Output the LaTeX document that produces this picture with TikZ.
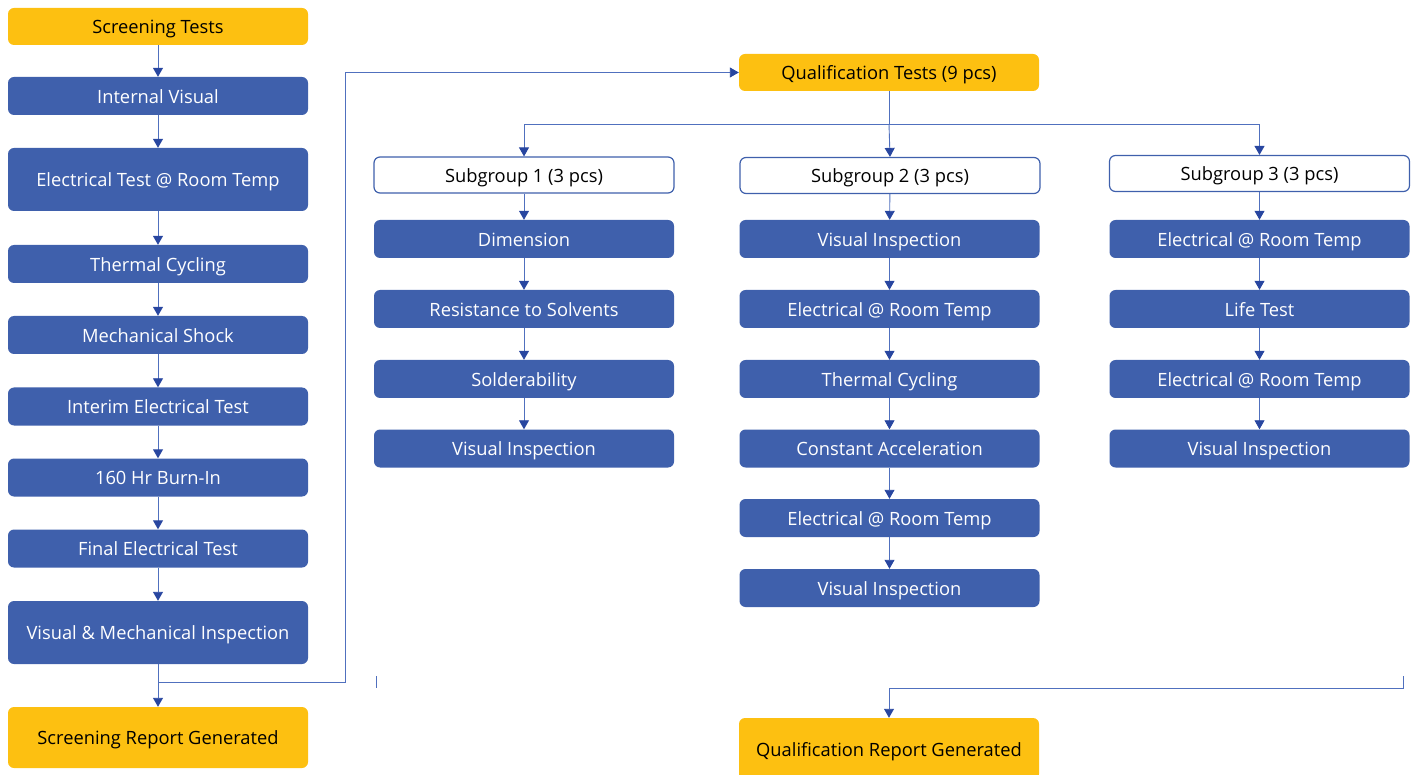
\documentclass[tikz,border=0pt]{standalone}
\usepackage{fontspec}
\setmainfont{Open Sans}
\usetikzlibrary{arrows.meta,positioning}
\definecolor{boxblue}{RGB}{63,96,172}
\definecolor{boxyellow}{RGB}{253,192,17}
\definecolor{linecol}{RGB}{80,112,190}
\definecolor{tipcol}{RGB}{40,70,160}
\tikzset{
  base/.style={rounded corners=6pt, minimum width=300pt, inner sep=0pt, align=center, text height=14.6pt, text depth=0pt, font=\fontsize{18.3}{22}\selectfont},
  bluebox/.style={base, fill=boxblue, text=white, minimum height=38pt},
  tallbox/.style={bluebox, minimum height=63pt},
  yellowbox/.style={base, fill=boxyellow, text=black, minimum height=37pt},
  whitebox/.style={base, draw=boxblue, line width=1.2pt, fill=white, text=black, minimum height=36pt},
  conn/.style={draw=linecol, line width=0.9pt},
  arr/.style={conn, -{Triangle[width=10pt,length=9pt,fill=tipcol,color=tipcol]}}
}
\begin{document}
\begin{tikzpicture}[x=1pt,y=-1pt]
\useasboundingbox (0,0) rectangle (1411,775);
% left column
\node[yellowbox] (st) at (158,26.5) {Screening Tests};
\node[bluebox] (l1) at (158,96) {Internal Visual};
\node[tallbox] (l2) at (158,179.5) {Electrical Test @ Room Temp};
\node[bluebox] (l3) at (158,264) {Thermal Cycling};
\node[bluebox] (l4) at (158,335) {Mechanical Shock};
\node[bluebox] (l5) at (158,406.5) {Interim Electrical Test};
\node[bluebox] (l6) at (158,477.5) {160 Hr Burn-In};
\node[bluebox] (l7) at (158,548.5) {Final Electrical Test};
\node[tallbox] (l8) at (158,632.5) {Visual \& Mechanical Inspection};
\node[yellowbox, minimum height=61pt] (sr) at (158,737.5) {Screening Report Generated};
\draw[arr] (st) -- (l1);
\draw[arr] (l1) -- (l2);
\draw[arr] (l2) -- (l3);
\draw[arr] (l3) -- (l4);
\draw[arr] (l4) -- (l5);
\draw[arr] (l5) -- (l6);
\draw[arr] (l6) -- (l7);
\draw[arr] (l7) -- (l8);
\draw[arr] (l8) -- (sr);
% qualification
\node[yellowbox] (qt) at (889,72.5) {Qualification Tests (9 pcs)};
\coordinate (lj) at (158,682);
\coordinate (lc) at (345,682);
\draw[arr] (lj) -- (lc) |- (qt.west);
\coordinate (t1) at (376,676);
\coordinate (t2) at (376,688);
\draw[conn] (t1) -- (t2);
% subgroups
\node[whitebox] (s1) at (524,175) {Subgroup 1 (3 pcs)};
\node[whitebox] (s2) at (890,175.5) {Subgroup 2 (3 pcs)};
\node[whitebox] (s3) at (1259.5,173.5) {Subgroup 3 (3 pcs)};
\coordinate (qj) at (889,124);
\draw[conn] (qt.south) -- (qj);
\draw[arr] (qj) -| (s1.north);
\draw[arr] (qj) -| (s3.north);
\draw[arr] (qj) -- (s2.north);
% column 1
\node[bluebox] (a1) at (524,239) {Dimension};
\node[bluebox] (a2) at (524,309) {Resistance to Solvents};
\node[bluebox] (a3) at (524,379) {Solderability};
\node[bluebox] (a4) at (524,448.5) {Visual Inspection};
\draw[arr] (s1) -- (a1);
\draw[arr] (a1) -- (a2);
\draw[arr] (a2) -- (a3);
\draw[arr] (a3) -- (a4);
% column 2
\node[bluebox] (b1) at (889.5,239) {Visual Inspection};
\node[bluebox] (b2) at (889.5,309) {Electrical @ Room Temp};
\node[bluebox] (b3) at (889.5,379) {Thermal Cycling};
\node[bluebox] (b4) at (889.5,448.5) {Constant Acceleration};
\node[bluebox] (b5) at (889.5,518) {Electrical @ Room Temp};
\node[bluebox] (b6) at (889.5,588) {Visual Inspection};
\draw[arr] (s2) -- (b1);
\draw[arr] (b1) -- (b2);
\draw[arr] (b2) -- (b3);
\draw[arr] (b3) -- (b4);
\draw[arr] (b4) -- (b5);
\draw[arr] (b5) -- (b6);
% column 3
\node[bluebox] (c1) at (1259.5,239) {Electrical @ Room Temp};
\node[bluebox] (c2) at (1259.5,309) {Life Test};
\node[bluebox] (c3) at (1259.5,379) {Electrical @ Room Temp};
\node[bluebox] (c4) at (1259.5,448.5) {Visual Inspection};
\draw[arr] (s3) -- (c1);
\draw[arr] (c1) -- (c2);
\draw[arr] (c2) -- (c3);
\draw[arr] (c3) -- (c4);
% qualification report
\node[yellowbox, minimum height=62pt] (qr) at (889,749) {Qualification Report Generated};
\coordinate (r1) at (1403,676);
\coordinate (r2) at (1403,688);
\draw[arr] (r1) -- (r2) -| (qr.north);
\end{tikzpicture}
\end{document}
